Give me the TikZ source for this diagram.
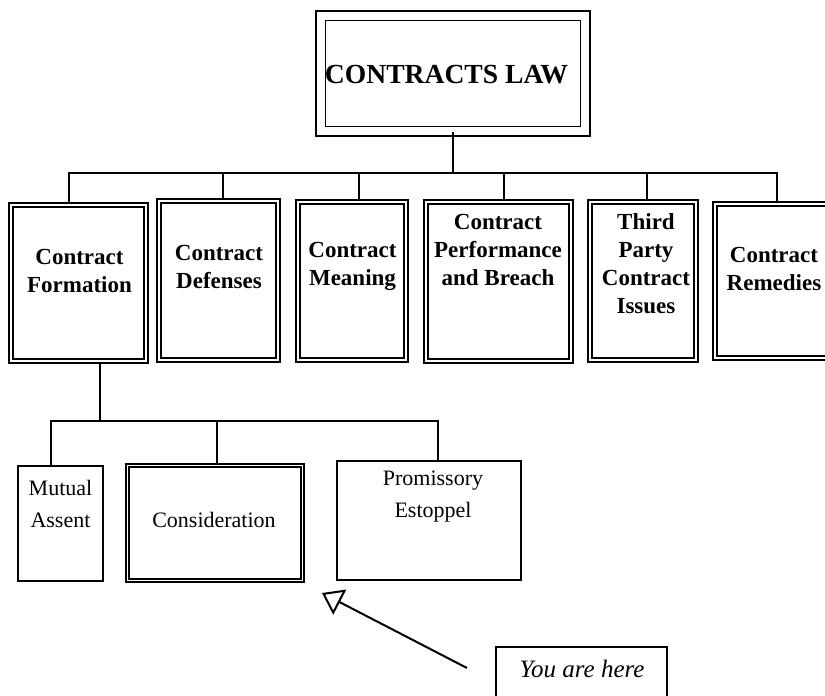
\documentclass[tikz,border=0pt]{standalone}
\usepackage{fontspec}
\setmainfont{Liberation Serif}
\usetikzlibrary{arrows.meta}
\begin{document}
\begin{tikzpicture}[x=0.5pt, y=-0.5pt,
    main/.style = {draw, line width=0.9pt, double, double distance=0.9pt, inner sep=0pt},
    plain/.style = {draw, line width=1pt, inner sep=0pt},
    head/.style = {align=center, inner sep=0pt, font=\fontsize{11.5}{14}\selectfont\bfseries},
    lbl/.style = {align=center, inner sep=0pt, font=\fontsize{11}{16}\selectfont},
    conn/.style = {line width=1pt},
    pointer/.style = {line width=1pt, -{Triangle[open, length=10pt, width=14pt, line width=1pt]}}]
    \useasboundingbox (0,0) rectangle (825,696);
    \clip (0,0) rectangle (825,696);
    \node[main, line width=0.8pt, double distance=4pt, minimum width=132.4pt, minimum height=57.9pt] (law) at (453,73.5) {};
    \node[head, font=\fontsize{13.8}{16}\selectfont\bfseries] (law-t) at (446.5,75) {CONTRACTS LAW};
    \node[main, minimum width=67.5pt, minimum height=78pt] (formation) at (78.5,283) {};
    \node[main, minimum width=59.5pt, minimum height=79.5pt] (defenses) at (218.5,280.5) {};
    \node[main, minimum width=54pt, minimum height=79pt] (meaning) at (352,281) {};
    \node[main, minimum width=72.5pt, minimum height=79.5pt] (performance) at (498.5,281.5) {};
    \node[main, minimum width=53pt, minimum height=79pt] (thirdparty) at (643,281) {};
    \node[main, minimum width=59pt, minimum height=77pt] (remedies) at (774,281) {};
    \node[head] (formation-t) at (79.5,271) {Contract\\Formation};
    \node[head] (defenses-t) at (219,266.5) {Contract\\Defenses};
    \node[head] (meaning-t) at (352.5,266.5) {Contract\\Meaning};
    \node[head] (performance-t) at (498,249.5) {Contract\\Performance\\and Breach};
    \node[head] (thirdparty-t) at (646,263.5) {Third\\Party\\Contract\\Issues};
    \node[head] (remedies-t) at (774,269) {Contract\\Remedies};
    \node[plain, minimum width=42.5pt, minimum height=57.5pt] (mutual) at (60.5,523.5) {};
    \node[main, minimum width=87.5pt, minimum height=57.5pt] (consideration) at (215,523) {};
    \node[plain, minimum width=92pt, minimum height=59.5pt] (promissory) at (429,520.5) {};
    \node[lbl] (mutual-t) at (60.5,504) {Mutual\\Assent};
    \node[lbl] (consideration-t) at (214,520) {Consideration};
    \node[lbl] (promissory-t) at (433,496.5) {Promissory\\Estoppel};
    \node[plain, minimum width=85.5pt, minimum height=31pt] (here) at (581.5,678) {};
    \node[inner sep=0pt, font=\fontsize{12.5}{15}\selectfont\itshape] (here-t) at (582,669) {You are here};
    \coordinate (bus) at (453,173);
    \coordinate (bus2) at (100,421);
    \draw[conn] (law.south) -- (bus);
    \foreach \n/\dx in {formation/-4.75, defenses/2.25, meaning/3.5, performance/2.75, thirdparty/2, remedies/1.5}
        \draw[conn] ([xshift=\dx pt]\n.north) |- (bus);
    \draw[conn] ([xshift=10.75pt]formation.south) -- (bus2);
    \foreach \n/\dx in {mutual/-4.75, consideration/1, promissory/4.5}
        \draw[conn] ([xshift=\dx pt]\n.north) |- (bus2);
    \coordinate (tail) at (467,668);
    \coordinate (tip) at (322,593);
    \draw[pointer] (tail) -- (tip);
\end{tikzpicture}
\end{document}
